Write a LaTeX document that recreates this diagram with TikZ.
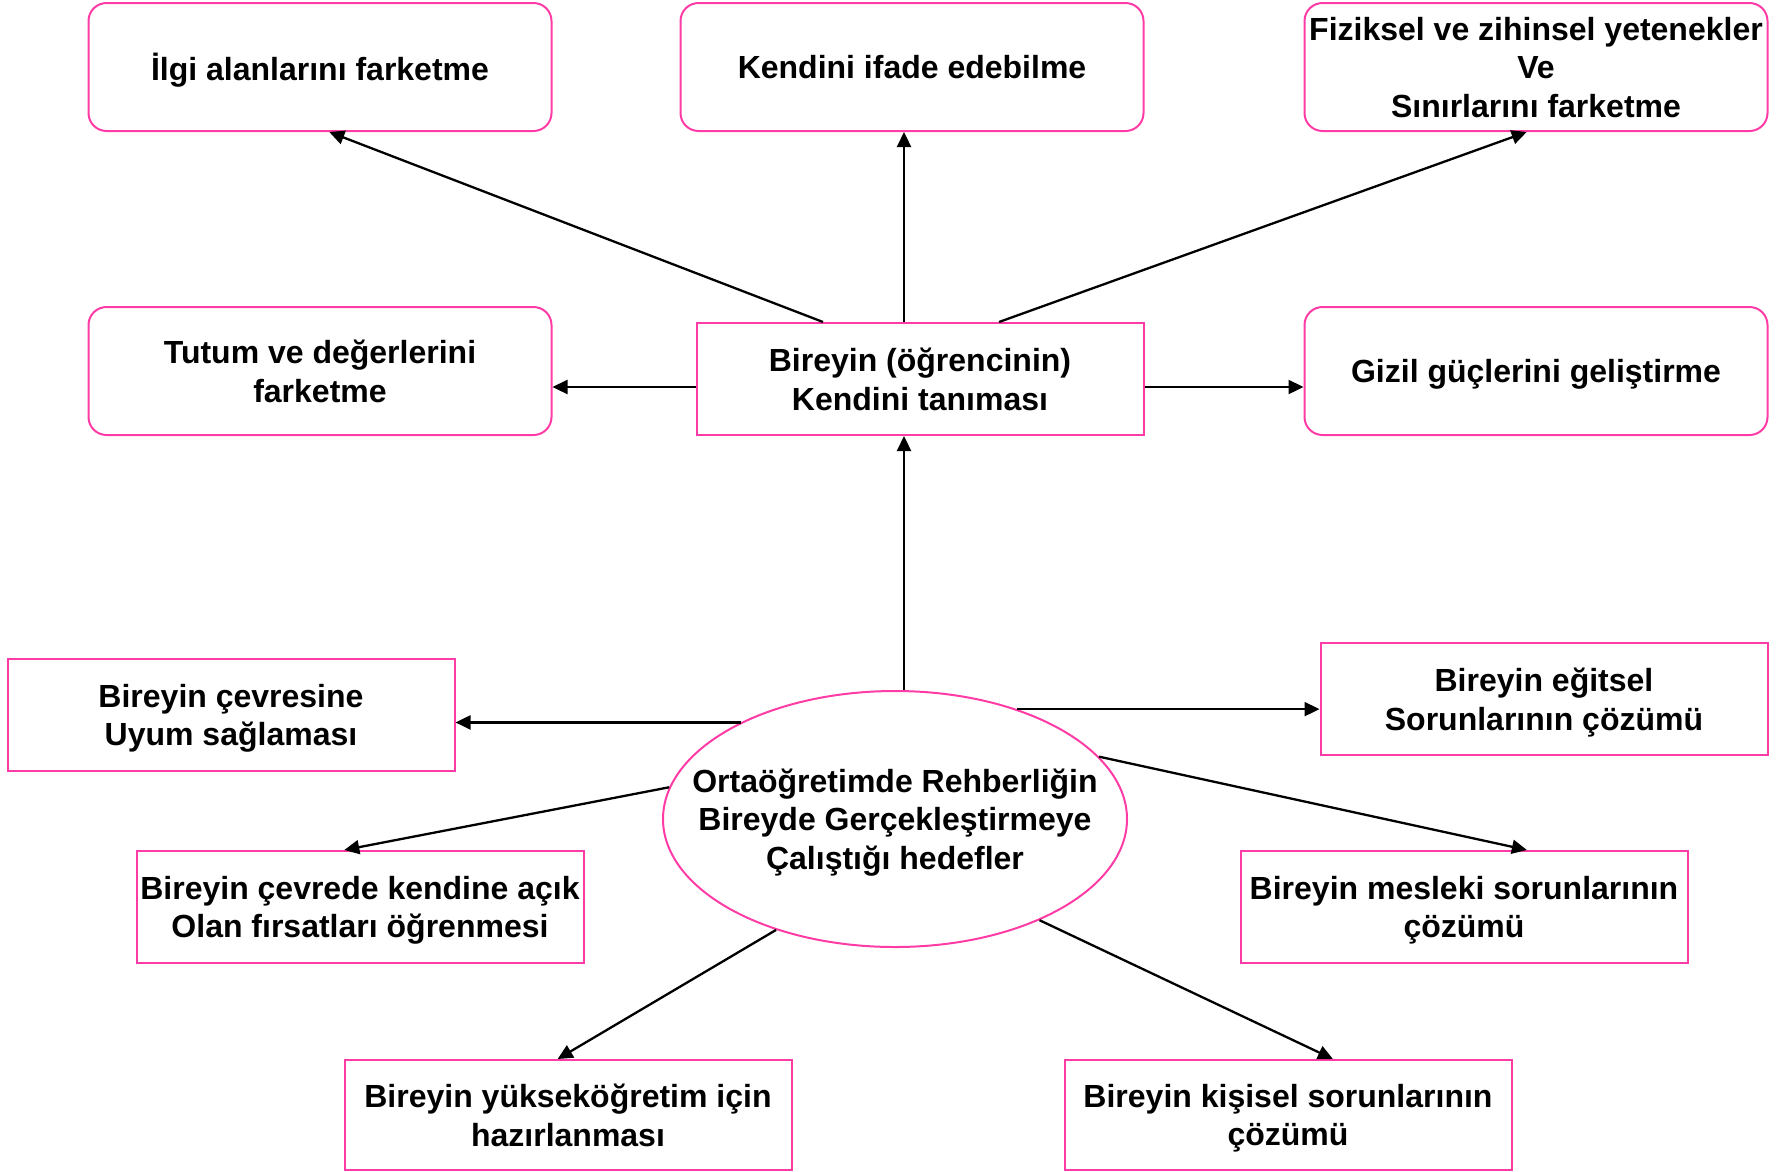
\documentclass[tikz,border=0pt]{standalone}
\usepackage{fontspec}
\setmainfont{Liberation Sans}
\usetikzlibrary{positioning}
\usetikzlibrary{calc}
\usetikzlibrary{shapes.geometric}
\usetikzlibrary{arrows.meta}
\definecolor{rose}{RGB}{255,60,165}

\begin{document}
\begin{tikzpicture}[x=1pt, y=-1pt, >={Triangle[length=15pt, width=14pt]}, line width=2.3pt,
                    item/.style={draw=rose, line width=2pt, align=center, inner sep=0pt, text depth=-1.5pt,
                                 minimum width=447pt, minimum height=112pt, font=\fontsize{32}{38.5}\selectfont\bfseries},
                    soft/.style={item, rounded corners=18pt, minimum width=463pt, minimum height=128pt},
                    goal/.style={item, ellipse, inner xsep=-45pt, inner ysep=10pt, minimum width=464pt, minimum height=256pt}]
    \useasboundingbox (0,0) rectangle (1785,1171);
    \path
        (320,67) node[soft] (ilgi) {İlgi alanlarını farketme}
        (912,67) node[soft] (ifade) {Kendini ifade edebilme}
        (1536,67) node[soft] (fizik) {Fiziksel ve zihinsel yetenekler\\Ve\\Sınırlarını farketme}
        (320,371) node[soft] (tutum) {Tutum ve değerlerini\\farketme}
        (920,379) node[item] (kendi) {Bireyin (öğrencinin)\\Kendini tanıması}
        (1536,371) node[soft] (gizil) {Gizil güçlerini geliştirme}
        (231,715) node[item] (cevre) {Bireyin çevresine\\Uyum sağlaması}
        (895,819) node[goal] (hedef) {Ortaöğretimde Rehberliğin\\Bireyde Gerçekleştirmeye\\Çalıştığı hedefler}
        (1544,699) node[item] (egitim) {Bireyin eğitsel\\Sorunlarının çözümü}
        (360,907) node[item] (firsat) {Bireyin çevrede kendine açık\\Olan fırsatları öğrenmesi}
        (1464,907) node[item] (meslek) {Bireyin mesleki sorunlarının\\çözümü}
        (568,1115) node[item, minimum height=110pt] (yuksek) {Bireyin yükseköğretim için\\hazırlanması}
        (1288,1115) node[item, minimum height=110pt] (kisi) {Bireyin kişisel sorunlarının\\çözümü};

    % upper part
    \draw[->] ($(hedef.north)+(9,0)$) coordinate (mid) -- (mid |- kendi.south);
    \draw[->] (mid |- kendi.north) -- (mid |- ifade.south);
    \draw[->] ($(kendi.north west)!0.284!(kendi.north east)$) -- ($(ilgi.south west)!0.52!(ilgi.south east)$);
    \draw[->] ($(kendi.north west)!0.676!(kendi.north east)$) -- ($(fizik.south west)!0.48!(fizik.south east)$);
    \draw[->] ($(kendi.west)+(0,8)$) coordinate (lft) -- (lft -| tutum.east);
    \draw[->] ($(kendi.east)+(0,8)$) coordinate (rgt) -- (rgt -| gizil.west);

    % lower part
    \draw[->] (hedef.148) -- (hedef.148 -| cevre.east);
    \draw[->] (hedef.42) -- (hedef.42 -| egitim.west);
    \draw[->] (hedef.172) -- ($(firsat.north west)!0.465!(firsat.north east)$);
    \draw[->] (hedef.17) -- ($(meslek.north west)!0.64!(meslek.north east)$);
    \draw[->] (hedef.223) -- ($(yuksek.north west)!0.477!(yuksek.north east)$);
    \draw[->] (hedef.-35) -- ($(kisi.north west)!0.6!(kisi.north east)$);
\end{tikzpicture}
\end{document}
